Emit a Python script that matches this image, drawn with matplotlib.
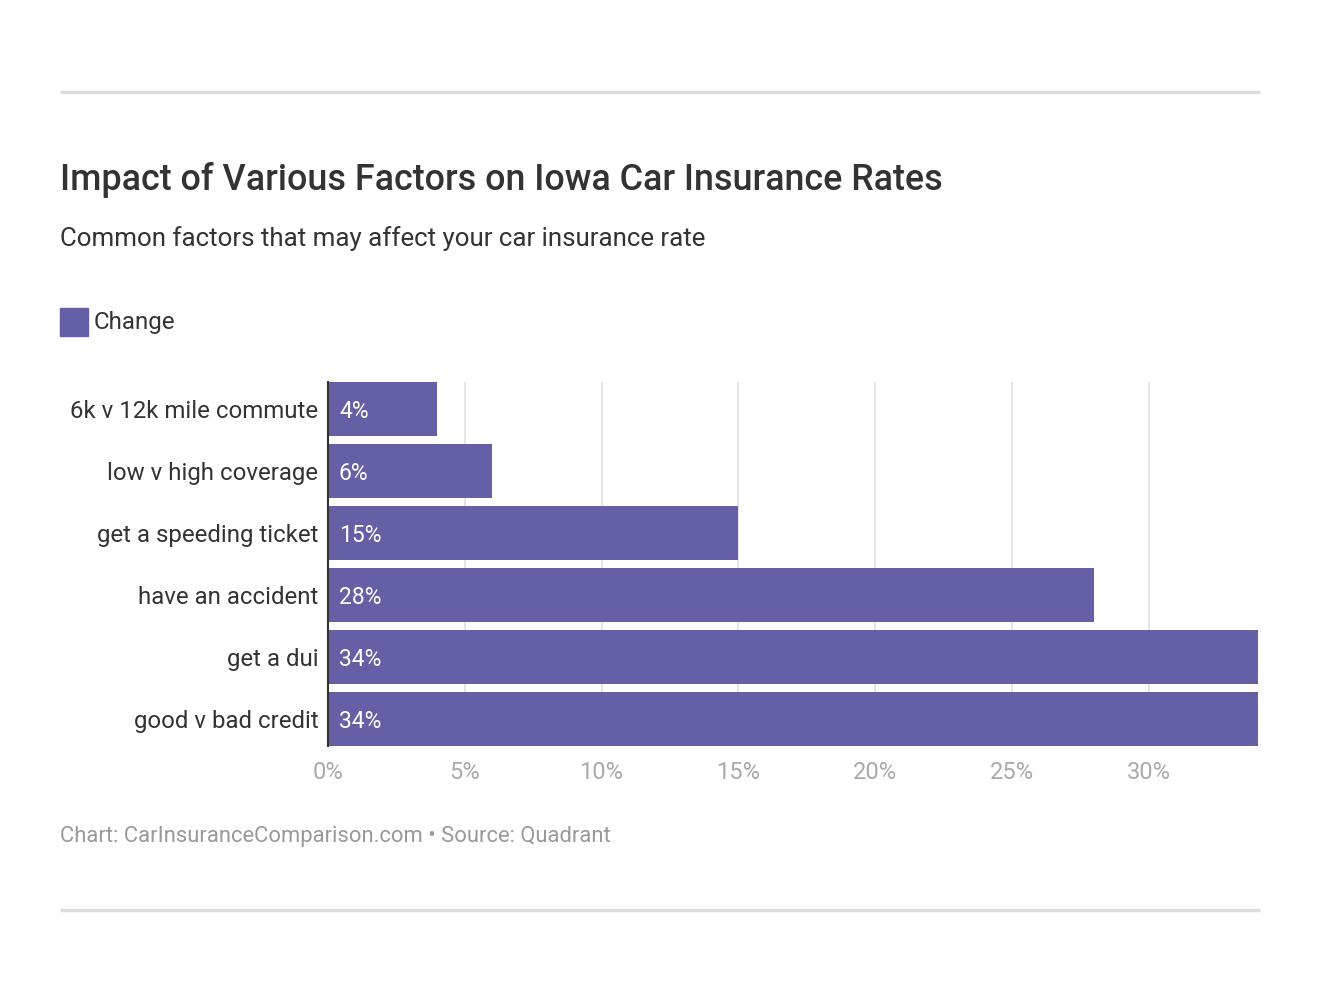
import matplotlib.pyplot as plt
from matplotlib.patches import Rectangle
from matplotlib.lines import Line2D

categories = ["6k v 12k mile commute", "low v high coverage", "get a speeding ticket",
              "have an accident", "get a dui", "good v bad credit"]
values = [4, 6, 15, 28, 34, 34]
xticks = [0, 5, 10, 15, 20, 25, 30]
xtick_labels = ["0%", "5%", "10%", "15%", "20%", "25%", "30%"]

BAR = "#655fa6"
plt.rcParams['font.family'] = ['Roboto', 'DejaVu Sans']

W, H = 1320, 992
fig = plt.figure(figsize=(W / 100, H / 100), dpi=100)

def fx(px):
    return px / W

def fy(py):
    return 1 - py / H

ax = fig.add_axes([fx(328), fy(746), fx(1258) - fx(328), fy(382) - fy(746)])
y = list(range(len(categories)))
bh = 54 / 62
ax.barh(y, values, height=bh, color=BAR, zorder=3)
ax.set_ylim(len(categories) - 1 + bh / 2, -bh / 2)
ax.set_xlim(0, 34)
for yi, v in zip(y, values):
    ax.text(0.4, yi, f"{v}%", color="white", fontsize=16.5, va="center_baseline",
            ha="left", zorder=4)

ax.set_yticks(y)
ax.set_yticklabels(categories, fontsize=17.3, color="#333333")
ax.set_xticks(xticks)
ax.set_xticklabels(xtick_labels, fontsize=17, color="#aaaaaa")
ax.tick_params(axis="y", length=0, pad=7)
ax.tick_params(axis="x", length=0, pad=11)
ax.grid(axis="x", color="#e0e0e0", linewidth=1.2, zorder=0)
for s in ["top", "right", "bottom"]:
    ax.spines[s].set_visible(False)
ax.spines["left"].set_color("#333333")
ax.spines["left"].set_linewidth(1.5)
ax.spines["left"].set_zorder(5)

# header / footer
for ry in (92, 910):
    fig.add_artist(Line2D([fx(60), fx(1260)], [fy(ry), fy(ry)], color="#dddddd",
                          linewidth=2.5, solid_capstyle="butt"))
fig.text(fx(60), fy(190), "Impact of Various Factors on Iowa Car Insurance Rates",
         fontsize=25.85, fontweight="medium", color="#333333", va="baseline")
fig.text(fx(60), fy(246), "Common factors that may affect your car insurance rate",
         fontsize=18.6, color="#333333", va="baseline")
fig.add_artist(Rectangle((fx(60), fy(336)), fx(28), fy(308) - fy(336), color=BAR,
                         transform=fig.transFigure))
fig.text(fx(94), fy(329), "Change", fontsize=17.4, color="#333333", va="baseline")
fig.text(fx(60), fy(842), "Chart: CarInsuranceComparison.com \u2022 Source: Quadrant",
         fontsize=15.8, color="#999999", va="baseline")

fig.savefig("out.png", dpi=100)
